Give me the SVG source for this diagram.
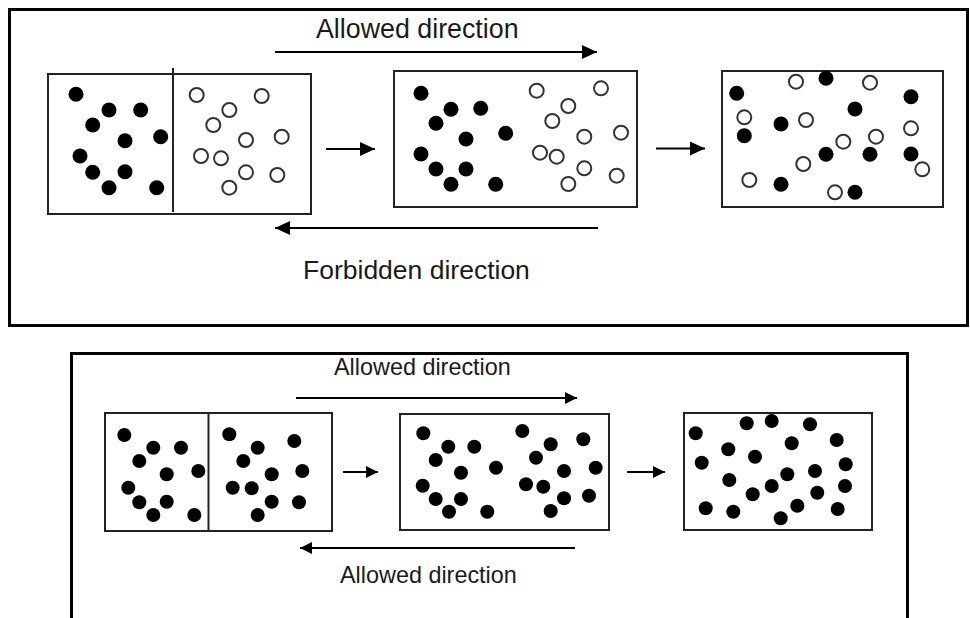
<svg xmlns="http://www.w3.org/2000/svg" width="970" height="618" viewBox="0 0 970 618">
<defs>
<marker id="ah" markerUnits="userSpaceOnUse" markerWidth="16" markerHeight="14" refX="15" refY="7" orient="auto"><path d="M0,0 L15,7 L0,14 Z" fill="#000"/></marker>
<marker id="ahs" markerUnits="userSpaceOnUse" markerWidth="13" markerHeight="12" refX="12" refY="6" orient="auto"><path d="M0,0 L12,6 L0,12 Z" fill="#000"/></marker>
<style>
.frame{fill:none;stroke:#000;stroke-width:3}
.box{fill:#fff;stroke:#222;stroke-width:2}
.div{stroke:#222;stroke-width:2}
.f{fill:#000}
.o{fill:#fff;stroke:#333;stroke-width:2}
.arr{stroke:#000;stroke-width:2;fill:none}
.lbl{font-family:"Liberation Sans",Arial,sans-serif;fill:#1a1a1a}
</style>
</defs>
<rect id="top-frame" class="frame" x="9.5" y="9.5" width="958" height="316"/>
<path id="bottom-frame" class="frame" d="M71.5,620 V353.5 H907.5 V620"/>

<g id="top-box1">
<rect class="box" x="48" y="74" width="263" height="140"/>
<line class="div" x1="173" y1="68" x2="173" y2="212"/>
<g class="f">
<circle cx="76" cy="94.3" r="7.5"/><circle cx="109" cy="110" r="7.5"/><circle cx="140.7" cy="110" r="7.5"/><circle cx="92.7" cy="125" r="7.5"/><circle cx="125" cy="140.7" r="7.5"/><circle cx="160.7" cy="136.7" r="7.5"/><circle cx="80" cy="156" r="7.5"/><circle cx="92.7" cy="172.3" r="7.5"/><circle cx="125" cy="171.7" r="7.5"/><circle cx="109" cy="187.7" r="7.5"/><circle cx="156.7" cy="187.7" r="7.5"/>
</g>
<g class="o">
<circle cx="196.7" cy="95" r="7"/><circle cx="261.7" cy="96" r="7"/><circle cx="229.3" cy="110" r="7"/><circle cx="213.3" cy="125" r="7"/><circle cx="246" cy="140" r="7"/><circle cx="281.7" cy="136.7" r="7"/><circle cx="201" cy="156" r="7"/><circle cx="221" cy="158.3" r="7"/><circle cx="246" cy="172.3" r="7"/><circle cx="277.3" cy="175" r="7"/><circle cx="229.3" cy="187.7" r="7"/>
</g>
</g>

<g id="top-box2">
<rect class="box" x="394" y="71" width="243" height="136"/>
<g class="f">
<circle cx="421" cy="93.3" r="7.5"/><circle cx="451" cy="109.3" r="7.5"/><circle cx="480.7" cy="108.3" r="7.5"/><circle cx="436" cy="123.3" r="7.5"/><circle cx="466" cy="139" r="7.5"/><circle cx="505.7" cy="133.3" r="7.5"/><circle cx="421" cy="154" r="7.5"/><circle cx="436" cy="169" r="7.5"/><circle cx="466" cy="169" r="7.5"/><circle cx="451" cy="184.3" r="7.5"/><circle cx="495.7" cy="184.3" r="7.5"/>
</g>
<g class="o">
<circle cx="536.7" cy="90.7" r="7"/><circle cx="601" cy="88.3" r="7"/><circle cx="568.3" cy="106" r="7"/><circle cx="552.3" cy="121" r="7"/><circle cx="584.3" cy="136.7" r="7"/><circle cx="621" cy="132.7" r="7"/><circle cx="540" cy="152.7" r="7"/><circle cx="556.7" cy="156.7" r="7"/><circle cx="584.3" cy="168.3" r="7"/><circle cx="616.7" cy="175.7" r="7"/><circle cx="568.3" cy="184" r="7"/>
</g>
</g>

<g id="top-box3">
<rect class="box" x="722" y="71" width="221" height="136"/>
<g class="f">
<circle cx="736.7" cy="93.3" r="7.5"/><circle cx="826" cy="78.3" r="7.5"/><circle cx="855" cy="109" r="7.5"/><circle cx="911" cy="96.7" r="7.5"/><circle cx="781" cy="124" r="7.5"/><circle cx="744.3" cy="135.7" r="7.5"/><circle cx="826" cy="154.3" r="7.5"/><circle cx="870" cy="154.3" r="7.5"/><circle cx="911" cy="154" r="7.5"/><circle cx="781" cy="184.3" r="7.5"/><circle cx="855" cy="192.3" r="7.5"/>
</g>
<g class="o">
<circle cx="796" cy="81.7" r="7"/><circle cx="870" cy="82.7" r="7"/><circle cx="744.3" cy="117.3" r="7"/><circle cx="806" cy="120" r="7"/><circle cx="911" cy="128.3" r="7"/><circle cx="876" cy="136.7" r="7"/><circle cx="843.3" cy="141.7" r="7"/><circle cx="803.3" cy="164" r="7"/><circle cx="922.3" cy="169.3" r="7"/><circle cx="749.3" cy="180" r="7"/><circle cx="835" cy="192.3" r="7"/>
</g>
</g>

<g id="bottom-box1">
<rect class="box" x="105" y="413" width="227" height="118"/>
<line class="div" x1="208.5" y1="413" x2="208.5" y2="531"/>
<g class="f">
<circle cx="124.3" cy="435" r="7"/><circle cx="153.3" cy="447.7" r="7"/><circle cx="181" cy="447.7" r="7"/><circle cx="139.3" cy="461" r="7"/><circle cx="166.7" cy="474.3" r="7"/><circle cx="198.3" cy="471" r="7"/><circle cx="128.3" cy="487.7" r="7"/><circle cx="139.3" cy="502.3" r="7"/><circle cx="166.7" cy="501.7" r="7"/><circle cx="153.3" cy="515" r="7"/><circle cx="194.3" cy="515" r="7"/>
<circle cx="229.3" cy="434.3" r="7"/><circle cx="257.7" cy="447.7" r="7"/><circle cx="294.3" cy="441" r="7"/><circle cx="243.3" cy="461" r="7"/><circle cx="271.7" cy="474.3" r="7"/><circle cx="302.3" cy="471" r="7"/><circle cx="232.7" cy="487.7" r="7"/><circle cx="251.7" cy="488.3" r="7"/><circle cx="271.7" cy="501.7" r="7"/><circle cx="299" cy="502.3" r="7"/><circle cx="257.7" cy="515" r="7"/>
</g>
</g>

<g id="bottom-box2">
<rect class="box" x="400" y="414" width="209" height="116"/>
<g class="f">
<circle cx="423.3" cy="433.3" r="7"/><circle cx="448.3" cy="446.7" r="7"/><circle cx="474.3" cy="446.7" r="7"/><circle cx="435.7" cy="460" r="7"/><circle cx="461" cy="472.7" r="7"/><circle cx="496" cy="467.7" r="7"/><circle cx="422.7" cy="485.7" r="7"/><circle cx="435.7" cy="499" r="7"/><circle cx="461" cy="499" r="7"/><circle cx="449" cy="511.7" r="7"/><circle cx="487.3" cy="511.7" r="7"/>
<circle cx="522.3" cy="431" r="7"/><circle cx="550.7" cy="444.3" r="7"/><circle cx="583.3" cy="439.3" r="7"/><circle cx="536" cy="457.7" r="7"/><circle cx="564" cy="471" r="7"/><circle cx="595.7" cy="467.7" r="7"/><circle cx="526" cy="484.3" r="7"/><circle cx="543.3" cy="486.7" r="7"/><circle cx="564" cy="498.3" r="7"/><circle cx="589" cy="495.7" r="7"/><circle cx="550.7" cy="511" r="7"/>
</g>
</g>

<g id="bottom-box3">
<rect class="box" x="684" y="413" width="188" height="117"/>
<g class="f">
<circle cx="695.7" cy="433.3" r="7"/><circle cx="746.7" cy="423.3" r="7"/><circle cx="771.7" cy="421" r="7"/><circle cx="810" cy="424.3" r="7"/><circle cx="728.3" cy="449.3" r="7"/><circle cx="791.7" cy="443.3" r="7"/><circle cx="836.7" cy="440" r="7"/><circle cx="701.7" cy="462.7" r="7"/><circle cx="755" cy="456.7" r="7"/><circle cx="845.7" cy="464.3" r="7"/><circle cx="729.3" cy="480" r="7"/><circle cx="787.3" cy="474.3" r="7"/><circle cx="815" cy="471" r="7"/><circle cx="771.7" cy="486" r="7"/><circle cx="752.7" cy="494.3" r="7"/><circle cx="845" cy="486" r="7"/><circle cx="817.3" cy="492.7" r="7"/><circle cx="705.7" cy="508.3" r="7"/><circle cx="733.3" cy="511.7" r="7"/><circle cx="797.3" cy="505.7" r="7"/><circle cx="837.7" cy="509" r="7"/><circle cx="780.7" cy="518.3" r="7"/>
</g>
</g>

<g id="connectors">
<line class="arr" x1="275" y1="52" x2="597" y2="52" marker-end="url(#ah)"/>
<line class="arr" x1="598" y1="228" x2="275" y2="228" marker-end="url(#ah)"/>
<line class="arr" x1="326" y1="149" x2="375" y2="149" marker-end="url(#ah)"/>
<line class="arr" x1="656" y1="148.5" x2="705" y2="148.5" marker-end="url(#ah)"/>
<line class="arr" x1="296" y1="398" x2="577" y2="398" marker-end="url(#ahs)"/>
<line class="arr" x1="575" y1="548" x2="300" y2="548" marker-end="url(#ahs)"/>
<line class="arr" x1="343" y1="472" x2="378" y2="472" marker-end="url(#ahs)"/>
<line class="arr" x1="627" y1="472" x2="665" y2="472" marker-end="url(#ahs)"/>
</g>

<g id="labels">
<text class="lbl" x="316" y="38.3" font-size="26.8">Allowed direction</text>
<text class="lbl" x="303" y="279" font-size="26.5">Forbidden direction</text>
<text class="lbl" x="334" y="375" font-size="23.4">Allowed direction</text>
<text class="lbl" x="340" y="583" font-size="23.4">Allowed direction</text>
</g>
</svg>
